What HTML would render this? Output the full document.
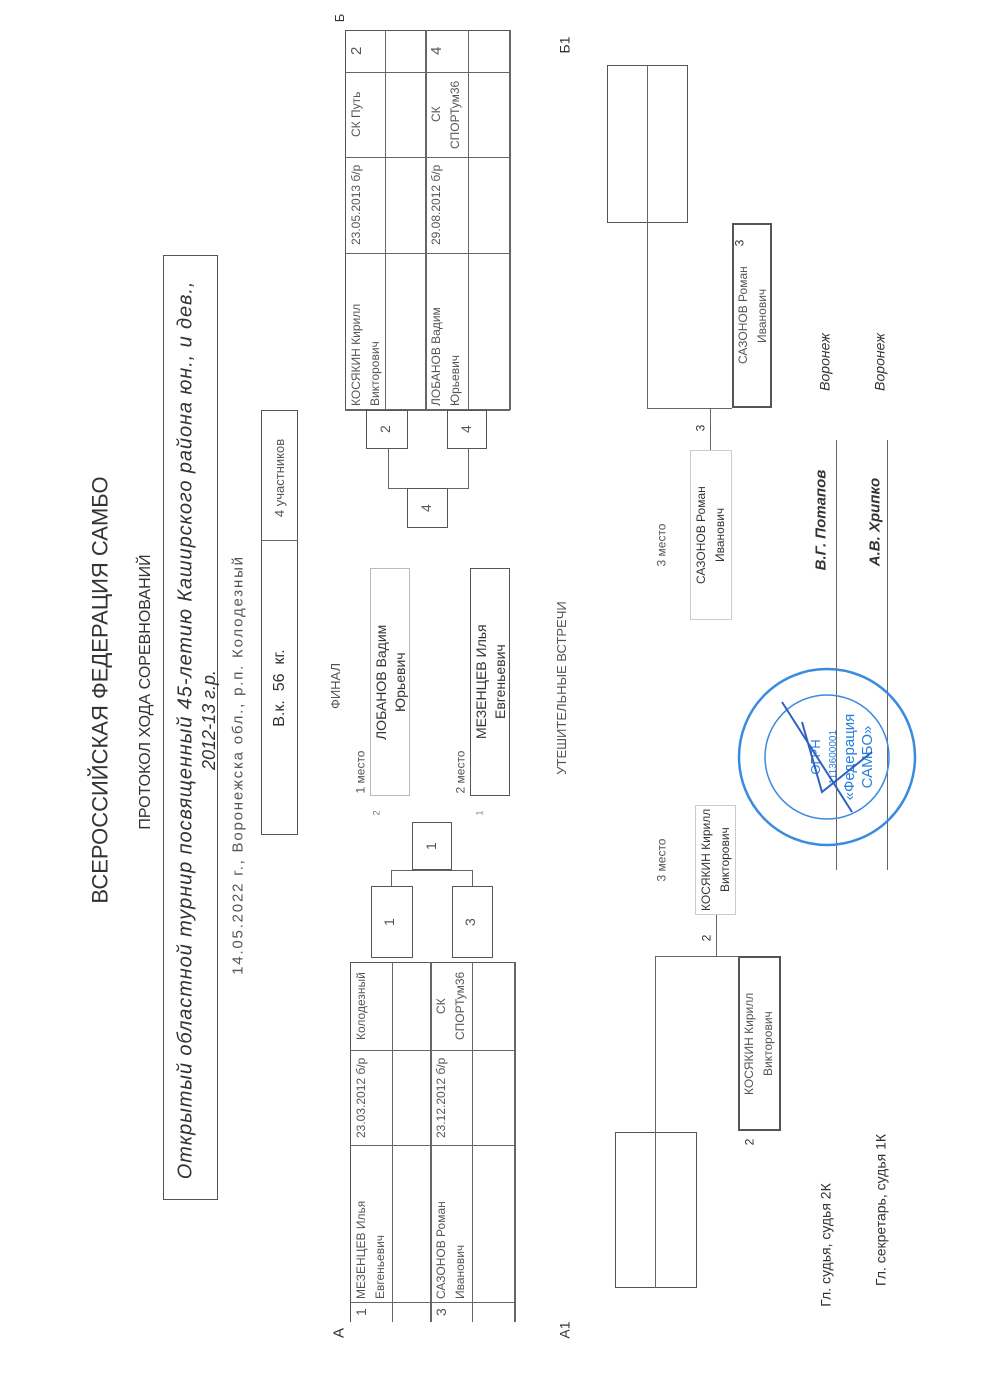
<!DOCTYPE html>
<html><head><meta charset="utf-8"><style>
body{margin:0;background:#fff}
#p{position:relative;width:1000px;height:1375px;overflow:hidden;background:#fff;font-family:"Liberation Sans",sans-serif;color:#333}
.b{position:absolute;border:1.5px solid #555;box-sizing:border-box}
.l{position:absolute;background:#666}
.t{position:absolute;white-space:nowrap;transform:translate(-50%,-50%) rotate(-90deg);line-height:1.25}
.c{position:absolute;writing-mode:vertical-rl;transform:rotate(180deg);box-sizing:border-box;font-size:12px;color:#555;line-height:19px;padding:3px 2px;overflow:hidden;white-space:nowrap}
.ctr{text-align:center}
</style></head><body><div id="p">

<!-- header -->
<div class="t" style="left:100px;top:690px;font-size:22px">ВСЕРОССИЙСКАЯ ФЕДЕРАЦИЯ САМБО</div>
<div class="t" style="left:146px;top:692px;font-size:16px">ПРОТОКОЛ ХОДА СОРЕВНОВАНИЙ</div>
<div class="b" style="left:163px;top:255px;width:55px;height:945px"></div>
<div class="t" style="left:186px;top:730px;font-size:20px;font-style:italic;letter-spacing:0.9px">Открытый областной турнир посвященный 45-летию Каширского района юн., и дев.,</div>
<div class="t" style="left:209px;top:720px;font-size:18px;font-style:italic">2012-13 г.р.</div>
<div class="t" style="left:239px;top:765px;font-size:15px;color:#555;letter-spacing:1.8px">14.05.2022 г., Воронежска обл., р.п. Колодезный</div>
<div class="b" style="left:261px;top:410px;width:37px;height:425px"></div>
<div class="l" style="left:261px;top:540px;width:37px;height:1px"></div>
<div class="t" style="left:280px;top:688px;font-size:16px">В.к.&nbsp; 56&nbsp; кг.</div>
<div class="t" style="left:280px;top:478px;font-size:13px;color:#555">4 участников</div>

<!-- letters -->
<div class="t" style="left:340px;top:1333px;font-size:15px">А</div>
<div class="t" style="left:340px;top:18px;font-size:13px">Б</div>
<div class="t" style="left:565px;top:1330px;font-size:14px">А1</div>
<div class="t" style="left:565px;top:45px;font-size:14px">Б1</div>

<!-- table A -->
<div class="b" style="left:350px;top:962px;width:165px;height:360px;border-right:none;border-bottom:none"></div>
<div class="l" style="left:392px;top:962px;width:1px;height:360px"></div>
<div class="l" style="left:430px;top:962px;width:1.5px;height:360px"></div>
<div class="l" style="left:472px;top:962px;width:1px;height:360px"></div>
<div class="l" style="left:514px;top:962px;width:1.5px;height:360px"></div>
<div class="l" style="left:350px;top:1050px;width:165px;height:1px"></div>
<div class="l" style="left:350px;top:1145px;width:165px;height:1px"></div>
<div class="l" style="left:350px;top:1302px;width:165px;height:1px"></div>
<div class="c" style="left:350px;top:1302px;width:42px;height:20px;font-size:14px;text-align:center">1</div>
<div class="c" style="left:430px;top:1302px;width:42px;height:20px;font-size:14px;text-align:center">3</div>
<div class="c" style="left:350px;top:1145px;width:42px;height:157px">МЕЗЕНЦЕВ Илья<br>Евгеньевич</div>
<div class="c" style="left:430px;top:1145px;width:42px;height:157px">САЗОНОВ Роман<br>Иванович</div>
<div class="c ctr" style="left:350px;top:1050px;width:42px;height:95px">23.03.2012 б/р</div>
<div class="c ctr" style="left:430px;top:1050px;width:42px;height:95px">23.12.2012 б/р</div>
<div class="c ctr" style="left:350px;top:962px;width:42px;height:88px">Колодезный</div>
<div class="c ctr" style="left:430px;top:962px;width:42px;height:88px">СК<br>СПОРТум36</div>

<!-- table B -->
<div class="b" style="left:345px;top:30px;width:165px;height:380px;border-right:none;border-bottom:none"></div>
<div class="l" style="left:385px;top:30px;width:1px;height:380px"></div>
<div class="l" style="left:425px;top:30px;width:1.5px;height:380px"></div>
<div class="l" style="left:468px;top:30px;width:1px;height:380px"></div>
<div class="l" style="left:509px;top:30px;width:1.5px;height:380px"></div>
<div class="l" style="left:345px;top:409px;width:165px;height:1.5px"></div>
<div class="l" style="left:345px;top:72px;width:165px;height:1px"></div>
<div class="l" style="left:345px;top:157px;width:165px;height:1px"></div>
<div class="l" style="left:345px;top:253px;width:165px;height:1px"></div>
<div class="c ctr" style="left:345px;top:30px;width:40px;height:42px;font-size:15px">2</div>
<div class="c ctr" style="left:425px;top:30px;width:43px;height:42px;font-size:15px">4</div>
<div class="c ctr" style="left:345px;top:72px;width:40px;height:85px">СК Путь</div>
<div class="c ctr" style="left:425px;top:72px;width:43px;height:85px">СК<br>СПОРТум36</div>
<div class="c ctr" style="left:345px;top:157px;width:40px;height:96px">23.05.2013 б/р</div>
<div class="c ctr" style="left:425px;top:157px;width:43px;height:96px">29.08.2012 б/р</div>
<div class="c" style="left:345px;top:253px;width:40px;height:156px">КОСЯКИН Кирилл<br>Викторович</div>
<div class="c" style="left:425px;top:253px;width:43px;height:156px">ЛОБАНОВ Вадим<br>Юрьевич</div>

<!-- bracket A -->
<div class="b" style="left:371px;top:886px;width:42px;height:72px"></div>
<div class="c ctr" style="left:371px;top:886px;width:42px;height:72px;font-size:14px;line-height:36px;padding:0">1</div>
<div class="b" style="left:452px;top:886px;width:41px;height:72px"></div>
<div class="c ctr" style="left:452px;top:886px;width:41px;height:72px;font-size:14px;line-height:36px;padding:0">3</div>
<div class="l" style="left:391px;top:870px;width:1px;height:16px"></div>
<div class="l" style="left:472px;top:870px;width:1px;height:16px"></div>
<div class="l" style="left:391px;top:870px;width:82px;height:1px"></div>
<div class="b" style="left:412px;top:822px;width:40px;height:48px"></div>
<div class="c ctr" style="left:412px;top:822px;width:40px;height:48px;font-size:14px;line-height:38px;padding:0">1</div>

<!-- bracket B -->
<div class="b" style="left:366px;top:410px;width:42px;height:39px"></div>
<div class="c ctr" style="left:366px;top:410px;width:42px;height:39px;font-size:14px;line-height:38px;padding:0">2</div>
<div class="b" style="left:447px;top:410px;width:40px;height:39px"></div>
<div class="c ctr" style="left:447px;top:410px;width:40px;height:39px;font-size:14px;line-height:38px;padding:0">4</div>
<div class="l" style="left:388px;top:449px;width:1px;height:39px"></div>
<div class="l" style="left:468px;top:449px;width:1px;height:39px"></div>
<div class="l" style="left:388px;top:488px;width:81px;height:1px"></div>
<div class="b" style="left:407px;top:488px;width:41px;height:40px"></div>
<div class="c ctr" style="left:407px;top:488px;width:41px;height:40px;font-size:14px;line-height:38px;padding:0">4</div>

<!-- final -->
<div class="t" style="left:336px;top:686px;font-size:13px;color:#555">ФИНАЛ</div>
<div class="t" style="left:361px;top:772px;font-size:12px;color:#555">1 место</div>
<div class="t" style="left:461px;top:772px;font-size:12px;color:#555">2 место</div>
<div class="t" style="left:377px;top:813px;font-size:9px;color:#777">2</div>
<div class="t" style="left:480px;top:813px;font-size:9px;color:#777">1</div>
<div class="b" style="left:370px;top:568px;width:40px;height:228px;border-color:#bbb;border-width:1px"></div>
<div class="c ctr" style="left:370px;top:568px;width:40px;height:228px;font-size:14px;color:#333">ЛОБАНОВ Вадим<br>Юрьевич</div>
<div class="b" style="left:470px;top:568px;width:40px;height:228px"></div>
<div class="c ctr" style="left:470px;top:568px;width:40px;height:228px;font-size:14px;color:#333">МЕЗЕНЦЕВ Илья<br>Евгеньевич</div>

<div class="t" style="left:562px;top:688px;font-size:13px;color:#555">УТЕШИТЕЛЬНЫЕ ВСТРЕЧИ</div>

<!-- consolation A1 -->
<div class="t" style="left:662px;top:860px;font-size:12px;color:#555">3 место</div>
<div class="b" style="left:695px;top:805px;width:41px;height:110px;border-color:#ccc;border-width:1px"></div>
<div class="c ctr" style="left:695px;top:805px;width:41px;height:110px;font-size:12px;color:#333;padding:0 2px">КОСЯКИН Кирилл<br>Викторович</div>
<div class="l" style="left:716px;top:915px;width:1px;height:41px"></div>
<div class="t" style="left:707px;top:938px;font-size:12px">2</div>
<div class="l" style="left:655px;top:956px;width:83px;height:1px"></div>
<div class="l" style="left:655px;top:956px;width:1px;height:176px"></div>
<div class="b" style="left:738px;top:956px;width:43px;height:175px;border-width:2px"></div>
<div class="c ctr" style="left:738px;top:956px;width:43px;height:175px;font-size:12px">КОСЯКИН Кирилл<br>Викторович</div>
<div class="t" style="left:750px;top:1142px;font-size:12px">2</div>
<div class="b" style="left:615px;top:1132px;width:82px;height:156px"></div>
<div class="l" style="left:655px;top:1132px;width:1px;height:156px"></div>

<!-- consolation Б1 -->
<div class="t" style="left:662px;top:545px;font-size:12px;color:#555">3 место</div>
<div class="b" style="left:690px;top:450px;width:42px;height:170px;border-color:#ccc;border-width:1px"></div>
<div class="c ctr" style="left:690px;top:450px;width:42px;height:170px;font-size:12px;color:#333;padding:0 2px">САЗОНОВ Роман<br>Иванович</div>
<div class="l" style="left:710px;top:408px;width:1px;height:42px"></div>
<div class="t" style="left:701px;top:428px;font-size:12px">3</div>
<div class="l" style="left:647px;top:408px;width:85px;height:1px"></div>
<div class="l" style="left:647px;top:223px;width:1px;height:185px"></div>
<div class="b" style="left:732px;top:223px;width:40px;height:185px;border-width:2px"></div>
<div class="c ctr" style="left:732px;top:223px;width:40px;height:185px;font-size:12px">САЗОНОВ Роман<br>Иванович</div>
<div class="t" style="left:740px;top:243px;font-size:12px">3</div>
<div class="b" style="left:607px;top:65px;width:81px;height:158px"></div>
<div class="l" style="left:647px;top:65px;width:1px;height:158px"></div>

<!-- signatures -->
<div class="t" style="left:826px;top:1245px;font-size:14px">Гл. судья, судья 2К</div>
<div class="t" style="left:881px;top:1210px;font-size:14px">Гл. секретарь, судья 1К</div>
<div class="t" style="left:822px;top:520px;font-size:15px;font-weight:bold;font-style:italic">В.Г. Потапов</div>
<div class="t" style="left:876px;top:522px;font-size:15px;font-weight:bold;font-style:italic">А.В. Хрипко</div>
<div class="t" style="left:825px;top:362px;font-size:14px;font-style:italic">Воронеж</div>
<div class="t" style="left:880px;top:362px;font-size:14px;font-style:italic">Воронеж</div>
<div class="l" style="left:836px;top:440px;width:1px;height:430px"></div>
<div class="l" style="left:887px;top:440px;width:1px;height:430px"></div>

<!-- stamp -->
<svg style="position:absolute;left:732px;top:662px" width="190" height="190" viewBox="0 0 190 190">
<circle cx="95" cy="95" r="88" fill="none" stroke="#3a8be0" stroke-width="2.5"/>
<circle cx="95" cy="95" r="62" fill="none" stroke="#3a8be0" stroke-width="1.5"/>
<g fill="#2a7fdc" font-family="Liberation Sans" font-size="13" transform="rotate(-90 95 95)">
<text x="95" y="88" text-anchor="middle">ОГРН</text>
<text x="95" y="104" text-anchor="middle" font-size="10">1113600001</text>
<text x="95" y="122" text-anchor="middle" font-size="15">«Федерация</text>
<text x="95" y="140" text-anchor="middle" font-size="15">САМБО»</text>
</g>
<path d="M50 40 L120 150 M70 60 L90 130 L140 90" stroke="#3060c0" stroke-width="2" fill="none"/>
</svg>
</div></body></html>
